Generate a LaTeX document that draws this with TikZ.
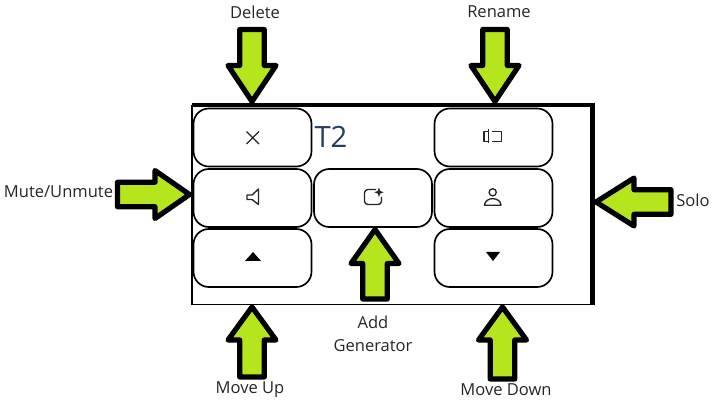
\documentclass[tikz,border=0pt]{standalone}
\usepackage{fontspec}
\setmainfont{Open Sans}
\definecolor{lime}{HTML}{B5E61D}
\definecolor{tlabel}{HTML}{24405F}
\definecolor{ink}{HTML}{262626}
\tikzset{
  btn/.style={draw=black,line width=1.25pt,rounded corners=11.5pt,minimum width=88.5pt,minimum height=43.5pt,inner sep=0pt,fill=white},
  lbl/.style={inner sep=0pt,font=\fontsize{12.4}{16.5}\selectfont,text=ink,align=center},
  fat/.style={fill=lime,draw=black,line width=3.9pt,line join=round},
  icon/.style={draw=ink,line width=1pt,line join=round},
  pics/fatarrow/.style 2 args={code={
    \path[fat] (0,0) -- (-24,-#2) -- (-12.3,-#2) -- (-12.3,-#1) -- (12.3,-#1) -- (12.3,-#2) -- (24,-#2) -- cycle;}},
}
\begin{document}
\begin{tikzpicture}[x=.75pt,y=-.75pt]
\useasboundingbox (0,0) rectangle (716,409);
% panel
\coordinate (pa) at (192,105.5);
\coordinate (pb) at (592.5,105.5);
\coordinate (pc) at (592.5,304.5);
\coordinate (pd) at (192,304.5);
\draw[line width=1.5pt] (pd) -- (pa);
\draw[line width=1.1pt] (pd) -- (pc);
\draw[line width=3pt] (pa) -- (pb);
\draw[line width=4pt] ([yshift=1.5pt]pb) -- (pc);
% buttons
\node[btn] (del) at (252.5,137.5) {};
\node[btn] (mute) at (252.5,198) {};
\node[btn] (up) at (252.5,258) {};
\node[btn] (gen) at (373,198) {};
\node[btn] (ren) at (493.5,137.5) {};
\node[btn] (solo) at (493.5,198) {};
\node[btn] (down) at (493.5,258) {};
\node[inner sep=0pt,font=\fontsize{22}{26}\selectfont,text=tlabel] (t2) at (331,137) {T2};
% icons
\draw[icon] (246.5,131.5) -- (259,144) (259,131.5) -- (246.5,144);
\draw[icon] (247,195) -- (252,195) -- (258.5,189) -- (258.5,204.5) -- (252,199.5) -- (247,199.5) -- cycle;
\draw[icon,rounded corners=2.5pt] (376,189.5) -- (364.5,189.5) -- (364.5,204.5) -- (381.5,204.5) -- (381.5,197);
\fill[ink] (379,187.5) -- (380.2,191) -- (383.7,192.3) -- (380.2,193.6) -- (379,197) -- (377.8,193.6) -- (374.3,192.3) -- (377.8,191) -- cycle;
\draw[icon] (488.5,129) -- (488.5,143) (488.5,131.5) -- (484,131.5) -- (484,141.5) -- (488.5,141.5);
\draw[icon] (492,131.5) -- (501.5,131.5) -- (501.5,141.5) -- (492,141.5);
\draw[icon] (492.7,192.3) circle (3.6);
\draw[icon] (484.5,205.2) .. controls (485,196.5) and (500.5,196.5) .. (501,205.2) -- cycle;
\fill[black] (245,261) -- (253,252) -- (261,261) -- cycle;
\fill[black] (486,252) -- (500,252) -- (493,261) -- cycle;
% arrows
\pic at (252,101.5) {fatarrow={72}{36}};
\pic at (495,101.5) {fatarrow={72}{36}};
\pic[rotate=90] at (189.5,194.5) {fatarrow={72}{34.5}};
\pic[rotate=-90] at (596,202) {fatarrow={75}{38}};
\pic[rotate=180] at (252,307) {fatarrow={70}{33}};
\pic[rotate=180] at (375,229.5) {fatarrow={69.5}{34}};
\pic[rotate=180] at (502.5,307) {fatarrow={72}{33}};
% labels
\node[lbl] (ldel) at (255,12) {Delete};
\node[lbl] (lren) at (499,11.5) {Rename};
\node[lbl] (lmute) at (58.5,192) {Mute/Unmute};
\node[lbl] (lsolo) at (693,200) {Solo};
\node[lbl] (lup) at (250,389.5) {Move Up};
\node[lbl] (lgen) at (373,333.5) {Add\\[1pt]Generator};
\node[lbl] (ldown) at (506,390) {Move Down};
\end{tikzpicture}
\end{document}
